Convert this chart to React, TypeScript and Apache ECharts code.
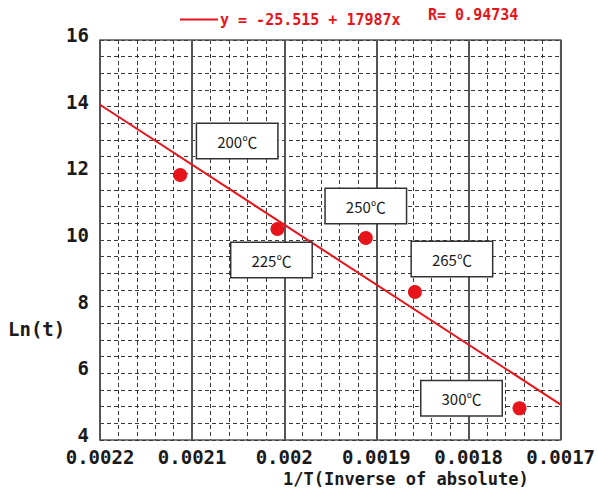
import React, { useEffect, useRef } from 'react';
import * as echarts from 'echarts';

const temperatures = ['200℃', '225℃', '250℃', '265℃', '300℃'];
const inverseT = [0.002113, 0.0020074, 0.0019115, 0.0018582, 0.0017447];
const lnT = [11.95, 10.33, 10.06, 8.44, 4.95];
const fitIntercept = -25.515;
const fitSlope = 17987;
const fitR = 0.94734;
const xTickLabels = ['0.0022', '0.0021', '0.002', '0.0019', '0.0018', '0.0017'];
const yTickLabels = ['4', '6', '8', '10', '12', '14', '16'];
const xRange = [0.0017, 0.0022];

// label box offsets (pixels) relative to each point
const labelOffsets = [[57, -34], [-6, 31], [0, -32], [37, -33], [-58, -10]];

const RED = '#e8141b';
const MONO = '"DejaVu Sans Mono", "Liberation Mono", monospace';

export default function App() {
  const ref = useRef<HTMLDivElement>(null);
  useEffect(() => {
    if (!ref.current) return;
    const chart = echarts.init(ref.current, undefined, { renderer: 'svg' });
    const fitName = `y = ${fitIntercept} + ${fitSlope}x`;
    const fitLine = xRange.map((x) => [x, fitIntercept + fitSlope * x]);
    const findLabel = (list: string[], v: number) =>
      list.find((l) => Math.abs(parseFloat(l) - v) < 1e-9) ?? '';
    chart.setOption({
      animation: false,
      backgroundColor: '#fff',
      grid: {
        left: 100, right: 32, top: 40, bottom: 51,
        show: true, borderColor: '#555', borderWidth: 1.5, backgroundColor: 'transparent',
      },
      legend: {
        data: [fitName],
        left: 175, top: 7,
        icon: 'rect', itemWidth: 38, itemHeight: 2, itemGap: 0,
        textStyle: { color: RED, fontWeight: 'bold', fontSize: 15, fontFamily: MONO, padding: [0, 0, 0, -3] },
      },
      graphic: [
        {
          type: 'text', left: 428, top: 7,
          style: { text: `R= ${fitR}`, fill: RED, font: `bold 15px ${MONO}` },
        },
        {
          type: 'text', left: 8, top: 319,
          style: { text: 'Ln(t)', fill: '#1a1a1a', font: `bold 19px ${MONO}` },
        },
        {
          type: 'text', left: 283, top: 470,
          style: { text: '1/T(Inverse of absolute)', fill: '#1a1a1a', font: `bold 17px ${MONO}` },
        },
      ],
      xAxis: {
        type: 'value', inverse: true,
        min: 0.0017, max: 0.0022, interval: 0.0001,
        axisLine: { show: false }, axisTick: { show: false },
        axisLabel: {
          margin: 7, color: '#1a1a1a', fontSize: 19, fontWeight: 'bold', fontFamily: MONO,
          formatter: (v: number) => findLabel(xTickLabels, v),
        },
        splitLine: { show: true, lineStyle: { color: '#555', width: 2 } },
        minorTick: { show: false, splitNumber: 5 },
        minorSplitLine: { show: true, lineStyle: { color: '#3a3a3a', width: 1, type: [4, 3] } },
      },
      yAxis: {
        type: 'value', min: 4, max: 16, interval: 2,
        axisLine: { show: false }, axisTick: { show: false },
        axisLabel: {
          margin: 11, color: '#1a1a1a', fontSize: 19, fontWeight: 'bold', fontFamily: MONO,
          verticalAlign: 'bottom', lineHeight: 10,
          formatter: (v: number) => findLabel(yTickLabels, v),
        },
        splitLine: { show: true, lineStyle: { color: '#3a3a3a', width: 1, type: [4, 3] } },
        minorTick: { show: false, splitNumber: 4 },
        minorSplitLine: { show: true, lineStyle: { color: '#3a3a3a', width: 1, type: [4, 3] } },
      },
      series: [
        {
          name: fitName, type: 'line', data: fitLine, symbol: 'none',
          lineStyle: { color: RED, width: 2 }, itemStyle: { color: RED }, z: 3,
        },
        {
          name: 'points', type: 'scatter', symbolSize: 14, z: 4,
          itemStyle: { color: RED, opacity: 1 },
          data: inverseT.map((x, i) => ({
            value: [x, lnT[i]],
            label: { offset: labelOffsets[i] },
          })),
          label: {
            show: true, position: 'inside',
            formatter: (p: any) => temperatures[p.dataIndex],
            backgroundColor: '#fff', borderColor: '#333', borderWidth: 1.5,
            width: 70, height: 20, lineHeight: 20, padding: [7, 5],
            align: 'center', verticalAlign: 'middle', opacity: 1,
            fontSize: 15, color: '#1a1a1a', fontFamily: '"Noto Sans CJK JP", "Noto Sans", sans-serif',
          },
        },
      ],
    });
    return () => chart.dispose();
  }, []);
  return <div ref={ref} style={{ position: 'fixed', left: 0, top: 0, width: 598, height: 491 }} />;
}
